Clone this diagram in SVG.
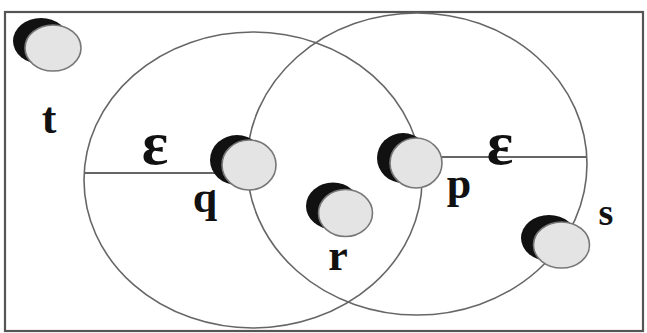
<svg xmlns="http://www.w3.org/2000/svg" width="647" height="333" viewBox="0 0 647 333">
<style>
.frame{fill:#ffffff;stroke:#555;stroke-width:2.2}
.ring{fill:none;stroke:#666;stroke-width:1.6}
.radius{stroke:#666;stroke-width:2}
.shadow{fill:#111}
.dot{fill:#e4e4e4;stroke:#777;stroke-width:1.6}
.lbl{font-family:"Liberation Serif","DejaVu Serif",serif;font-weight:bold;fill:#111;text-anchor:middle}
</style>
<rect class="frame" x="5" y="12" width="638" height="319"/>
<g id="regions">
<ellipse class="ring" cx="253" cy="180" rx="169" ry="148"/>
<ellipse class="ring" cx="417" cy="164" rx="170" ry="151"/>
</g>
<g id="connectors">
<line class="radius" x1="84" y1="173" x2="222" y2="173"/>
<line class="radius" x1="442" y1="157" x2="587" y2="157"/>
</g>
<g id="node-t">
<ellipse class="shadow" cx="41" cy="41" rx="28" ry="23"/>
<ellipse class="dot" cx="53" cy="48" rx="28" ry="23"/>
<text class="lbl" x="49" y="133" font-size="44">t</text>
</g>
<g id="node-q">
<ellipse class="shadow" cx="237" cy="160" rx="27" ry="25"/>
<ellipse class="dot" cx="249" cy="165" rx="27" ry="25"/>
<text class="lbl" x="205" y="212" font-size="44">q</text>
</g>
<g id="node-p">
<ellipse class="shadow" cx="403" cy="158" rx="26" ry="25"/>
<ellipse class="dot" cx="416" cy="163" rx="26" ry="25"/>
<text class="lbl" x="459" y="198" font-size="44">p</text>
</g>
<g id="node-r">
<ellipse class="shadow" cx="333" cy="206" rx="27" ry="23.5"/>
<ellipse class="dot" cx="345.5" cy="213" rx="27" ry="23.5"/>
<text class="lbl" x="338" y="270" font-size="44">r</text>
</g>
<g id="node-s">
<ellipse class="shadow" cx="549" cy="238" rx="28" ry="23"/>
<ellipse class="dot" cx="561.5" cy="245" rx="28" ry="23"/>
<text class="lbl" x="606" y="225" font-size="38">s</text>
</g>
<g id="labels">
<text class="lbl" x="155" y="164" font-size="62">ε</text>
<text class="lbl" x="500" y="164" font-size="62">ε</text>
</g>
</svg>
